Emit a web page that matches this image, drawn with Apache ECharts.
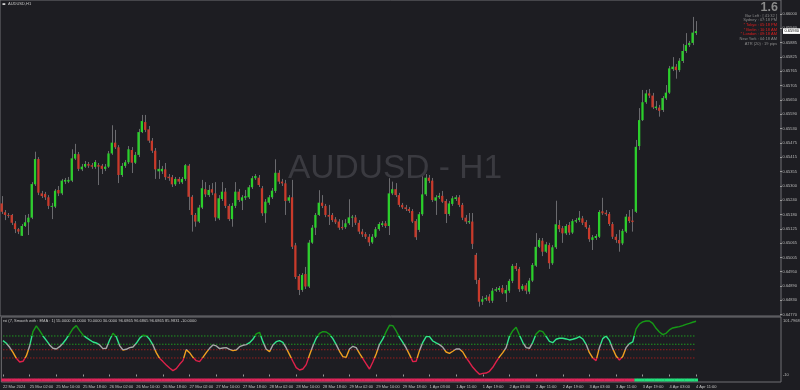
<!DOCTYPE html>
<html><head><meta charset="utf-8">
<script src="https://cdn.jsdelivr.net/npm/echarts@6/dist/echarts.min.js"></script>
<style>html,body{margin:0;padding:0;background:#1d1d22;}#c{width:800px;height:390px;}</style>
</head><body><div id="c"></div>
<script>
const symbolLabel = 'AUDUSD,H1';
const watermark = 'AUDUSD - H1';
const timeLabels = ['22 Mar 2024','25 Mar 02:00','25 Mar 10:00','25 Mar 18:00','26 Mar 02:00','26 Mar 10:00','26 Mar 18:00','27 Mar 02:00','27 Mar 10:00','27 Mar 18:00','28 Mar 02:00','28 Mar 10:00','28 Mar 18:00','29 Mar 02:00','29 Mar 10:00','29 Mar 18:00','1 Apr 03:00','1 Apr 11:00','1 Apr 19:00','2 Apr 03:00','2 Apr 11:00','2 Apr 19:00','3 Apr 03:00','3 Apr 11:00','3 Apr 19:00','4 Apr 03:00','4 Apr 11:00'];
const priceTicks = ['0.64770','0.64830','0.64890','0.64950','0.65005','0.65065','0.65125','0.65180','0.65240','0.65300','0.65355','0.65415','0.65475','0.65530','0.65590','0.65650','0.65705','0.65765','0.65825','0.65885','0.65940','0.66000'];

const opens = [0.65227,0.65191,0.65180,0.65180,0.65146,0.65122,0.65095,0.65135,0.65150,0.65169,
0.65305,0.65408,0.65268,0.65266,0.65252,0.65214,0.65214,0.65282,0.65268,0.65316,
0.65316,0.65320,0.65410,0.65428,0.65366,0.65377,0.65388,0.65383,0.65376,0.65384,
0.65381,0.65368,0.65377,0.65431,0.65475,0.65456,0.65343,0.65380,0.65395,0.65445,
0.65393,0.65425,0.65518,0.65559,0.65529,0.65483,0.65442,0.65358,0.65358,0.65366,
0.65336,0.65334,0.65305,0.65327,0.65313,0.65327,0.65381,0.65254,0.65180,0.65153,
0.65210,0.65285,0.65261,0.65285,0.65268,0.65166,0.65245,0.65275,0.65217,0.65163,
0.65217,0.65275,0.65238,0.65250,0.65252,0.65293,0.65330,0.65332,0.65289,0.65187,
0.65230,0.65252,0.65278,0.65352,0.65316,0.65309,0.65238,0.65252,0.65056,0.64931,
0.64874,0.64939,0.64888,0.65067,0.65128,0.65180,0.65230,0.65217,0.65180,0.65180,
0.65162,0.65153,0.65131,0.65130,0.65146,0.65169,0.65170,0.65148,0.65112,0.65102,
0.65091,0.65068,0.65091,0.65122,0.65139,0.65146,0.65135,0.65268,0.65285,0.65261,
0.65221,0.65211,0.65204,0.65196,0.65155,0.65119,0.65183,0.65264,0.65332,0.65320,
0.65238,0.65252,0.65258,0.65237,0.65184,0.65225,0.65245,0.65252,0.65221,0.65169,
0.65150,0.65153,0.65017,0.64915,0.64826,0.64836,0.64847,0.64830,0.64871,0.64874,
0.64882,0.64860,0.64871,0.64911,0.64972,0.64960,0.64877,0.64893,0.64867,0.64912,
0.64973,0.65050,0.65075,0.65030,0.65057,0.64983,0.65048,0.65139,0.65126,0.65105,
0.65139,0.65108,0.65153,0.65159,0.65166,0.65151,0.65128,0.65078,0.65086,0.65091,
0.65195,0.65189,0.65184,0.65143,0.65091,0.65078,0.65064,0.65112,0.65173,0.65157,
0.65193,0.65461,0.65567,0.65640,0.65676,0.65667,0.65616,0.65618,0.65608,0.65656,
0.65679,0.65775,0.65785,0.65771,0.65808,0.65849,0.65873,0.65882,0.65922];

const closes = [0.65193,0.65180,0.65176,0.65148,0.65122,0.65112,0.65135,0.65150,0.65169,0.65306,
0.65408,0.65271,0.65257,0.65252,0.65217,0.65217,0.65279,0.65268,0.65320,0.65323,
0.65323,0.65411,0.65429,0.65368,0.65377,0.65388,0.65381,0.65377,0.65396,0.65377,
0.65368,0.65377,0.65431,0.65475,0.65456,0.65343,0.65380,0.65395,0.65448,0.65393,
0.65425,0.65518,0.65563,0.65527,0.65483,0.65442,0.65366,0.65368,0.65368,0.65334,
0.65330,0.65305,0.65327,0.65316,0.65327,0.65383,0.65254,0.65180,0.65153,0.65210,
0.65289,0.65264,0.65282,0.65271,0.65170,0.65248,0.65275,0.65217,0.65163,0.65217,
0.65275,0.65241,0.65252,0.65257,0.65293,0.65330,0.65339,0.65302,0.65187,0.65234,
0.65252,0.65279,0.65352,0.65316,0.65309,0.65237,0.65252,0.65050,0.64927,0.64874,
0.64935,0.64888,0.65067,0.65128,0.65180,0.65230,0.65217,0.65180,0.65173,0.65159,
0.65150,0.65128,0.65126,0.65146,0.65170,0.65173,0.65148,0.65112,0.65101,0.65091,
0.65068,0.65091,0.65122,0.65143,0.65146,0.65135,0.65268,0.65285,0.65261,0.65221,
0.65211,0.65204,0.65196,0.65153,0.65089,0.65183,0.65264,0.65332,0.65319,0.65241,
0.65252,0.65258,0.65234,0.65184,0.65227,0.65248,0.65252,0.65221,0.65169,0.65153,
0.65155,0.65062,0.64915,0.64826,0.64836,0.64842,0.64830,0.64871,0.64877,0.64882,
0.64863,0.64874,0.64911,0.64972,0.64960,0.64877,0.64890,0.64871,0.64912,0.64976,
0.65050,0.65078,0.65030,0.65060,0.64983,0.65048,0.65142,0.65122,0.65105,0.65135,
0.65108,0.65155,0.65159,0.65169,0.65148,0.65130,0.65081,0.65089,0.65094,0.65192,
0.65187,0.65183,0.65143,0.65091,0.65078,0.65064,0.65115,0.65173,0.65155,0.65151,
0.65458,0.65567,0.65640,0.65676,0.65667,0.65619,0.65622,0.65605,0.65657,0.65679,
0.65778,0.65785,0.65771,0.65809,0.65849,0.65873,0.65882,0.65924,0.65930];

const lows = [0.65184,0.65159,0.65168,0.65139,0.65106,0.65102,0.65094,0.65131,0.65098,0.65163,
0.65298,0.65261,0.65249,0.65241,0.65204,0.65163,0.65208,0.65257,0.65261,0.65306,
0.65310,0.65314,0.65404,0.65359,0.65359,0.65372,0.65372,0.65368,0.65368,0.65302,
0.65347,0.65359,0.65372,0.65425,0.65449,0.65310,0.65335,0.65372,0.65388,0.65351,
0.65388,0.65416,0.65514,0.65518,0.65474,0.65433,0.65327,0.65327,0.65347,0.65323,
0.65319,0.65294,0.65298,0.65306,0.65306,0.65319,0.65200,0.65112,0.65132,0.65147,
0.65204,0.65253,0.65253,0.65261,0.65155,0.65159,0.65237,0.65208,0.65155,0.65132,
0.65208,0.65233,0.65200,0.65241,0.65245,0.65286,0.65323,0.65294,0.65176,0.65148,
0.65221,0.65245,0.65270,0.65306,0.65298,0.65180,0.65229,0.65041,0.64919,0.64853,
0.64866,0.64878,0.64882,0.65062,0.65098,0.65176,0.65208,0.65171,0.65139,0.65151,
0.65143,0.65119,0.65119,0.65123,0.65139,0.65131,0.65139,0.65102,0.65090,0.65082,
0.65053,0.65062,0.65086,0.65115,0.65131,0.65127,0.65098,0.65261,0.65253,0.65212,
0.65204,0.65196,0.65188,0.65147,0.65078,0.65110,0.65176,0.65257,0.65310,0.65233,
0.65180,0.65245,0.65229,0.65147,0.65176,0.65217,0.65237,0.65212,0.65159,0.65143,
0.65143,0.65041,0.64898,0.64806,0.64813,0.64829,0.64821,0.64821,0.64866,0.64866,
0.64857,0.64825,0.64862,0.64902,0.64951,0.64866,0.64870,0.64857,0.64857,0.64906,
0.64968,0.65045,0.65012,0.65025,0.64960,0.64976,0.65041,0.65110,0.65066,0.65098,
0.65098,0.65102,0.65147,0.65151,0.65139,0.65123,0.65070,0.65037,0.65078,0.65086,
0.65180,0.65176,0.65135,0.65082,0.65066,0.65030,0.65057,0.65106,0.65147,0.65112,
0.65188,0.65445,0.65563,0.65633,0.65657,0.65612,0.65608,0.65581,0.65600,0.65649,
0.65674,0.65767,0.65736,0.65763,0.65800,0.65841,0.65865,0.65873,0.65914];

const highs = [0.65257,0.65200,0.65188,0.65184,0.65155,0.65127,0.65143,0.65180,0.65184,0.65314,
0.65438,0.65416,0.65278,0.65274,0.65261,0.65229,0.65286,0.65298,0.65327,0.65331,
0.65335,0.65448,0.65470,0.65437,0.65388,0.65400,0.65396,0.65392,0.65404,0.65392,
0.65388,0.65388,0.65441,0.65546,0.65527,0.65465,0.65392,0.65404,0.65461,0.65457,
0.65437,0.65531,0.65588,0.65588,0.65543,0.65494,0.65453,0.65404,0.65380,0.65392,
0.65347,0.65343,0.65335,0.65335,0.65335,0.65388,0.65388,0.65261,0.65188,0.65221,
0.65323,0.65314,0.65302,0.65310,0.65314,0.65261,0.65314,0.65290,0.65225,0.65229,
0.65314,0.65286,0.65261,0.65282,0.65302,0.65339,0.65347,0.65343,0.65298,0.65245,
0.65261,0.65290,0.65407,0.65363,0.65327,0.65323,0.65261,0.65323,0.65066,0.64939,
0.64943,0.64968,0.65078,0.65139,0.65188,0.65281,0.65261,0.65225,0.65221,0.65188,
0.65171,0.65163,0.65159,0.65163,0.65244,0.65180,0.65180,0.65159,0.65123,0.65110,
0.65102,0.65102,0.65131,0.65151,0.65155,0.65155,0.65330,0.65316,0.65310,0.65270,
0.65229,0.65221,0.65212,0.65204,0.65163,0.65192,0.65347,0.65347,0.65343,0.65331,
0.65261,0.65270,0.65278,0.65245,0.65237,0.65257,0.65261,0.65261,0.65229,0.65180,
0.65188,0.65188,0.65025,0.64923,0.64849,0.64853,0.64857,0.64882,0.64886,0.64890,
0.64894,0.64894,0.64919,0.64980,0.64984,0.64968,0.64898,0.64902,0.64923,0.64984,
0.65106,0.65086,0.65086,0.65070,0.65066,0.65057,0.65238,0.65159,0.65135,0.65143,
0.65151,0.65163,0.65167,0.65196,0.65176,0.65159,0.65139,0.65098,0.65102,0.65200,
0.65250,0.65200,0.65192,0.65151,0.65102,0.65119,0.65123,0.65184,0.65200,0.65204,
0.65486,0.65616,0.65690,0.65690,0.65694,0.65678,0.65645,0.65629,0.65665,0.65710,
0.65788,0.65824,0.65796,0.65820,0.65878,0.65922,0.65890,0.65988,0.65971];

const rsi = [61.5,56.7,49.4,40.3,29.4,22.8,24.0,33.7,51.9,77.9,
88.2,79.7,70.0,62.1,53.7,47.6,46.4,50.6,56.7,64.6,
73.7,83.4,88.8,79.7,71.9,67.0,62.8,59.1,57.3,53.7,
47.0,47.6,62.8,74.9,68.8,52.5,44.6,45.8,48.8,50.0,
56.7,65.8,71.2,70.6,64.0,53.7,39.7,29.4,23.4,17.3,
11.8,7.0,10.6,18.5,25.2,45.2,39.7,31.2,25.2,23.4,
31.2,39.7,47.6,53.7,51.9,47.0,48.2,48.8,45.8,43.4,
44.6,50.6,53.1,54.3,57.9,64.0,73.7,76.7,59.7,45.8,
41.6,53.7,59.7,61.5,58.5,48.2,36.1,24.0,12.4,8.2,
10.0,17.9,35.5,51.9,65.8,74.9,77.9,77.3,73.1,65.2,
54.3,42.2,32.5,31.2,46.4,51.2,48.8,38.5,28.8,19.1,
10.0,22.8,37.3,54.9,64.6,77.9,89.4,88.8,79.1,67.6,
58.5,48.2,36.1,23.4,24.0,43.4,58.5,68.8,68.8,60.9,
57.3,54.3,49.4,40.9,38.5,42.2,46.4,46.4,40.9,30.6,
22.2,13.1,6.4,0.3,2.1,2.7,5.8,13.1,22.8,31.9,
39.7,48.8,69.4,79.7,85.8,71.9,58.5,48.8,47.6,58.5,
73.7,79.7,77.9,69.4,60.3,57.9,64.0,65.8,65.8,64.6,
62.8,64.0,65.8,68.8,64.6,54.9,39.7,30.0,25.2,48.8,
65.2,70.0,62.1,47.0,33.7,26.4,32.5,48.8,56.1,59.1,
82.8,91.8,95.5,97.3,97.3,93.0,84.0,77.3,72.5,74.9,
81.0,84.6,85.8,87.0,88.8,91.2,93.0,94.9,96.7];

const upperLevels = [70, 55];
const lowerLevels = [45, 30];
const stripLevel = -10;
const stripUpFromBar = 190;
const rsiTitle = 'rsi (7, Smooth with : EMA : 1) 55.0000 45.0000 70.0000 30.0000 96.6865 96.6865 96.6865 85.9831 -10.0000';
const rsiScaleLabels = ['101.7968', '-10'];
const infoBig = '1.6';
const infoLines = ['Bar Left : [ 41:32 ]','Sydney : 07:18 PM','* Tokyo : 05:18 PM','* Berlin : 10:18 AM','* London : 09:18 AM','New York : 04:18 AM','ATR (20) : 19 pips'];
const infoIsMarket = [false,false,true,true,true,false,false];

// ---- layout / style ----
const chartShiftBars = 25;
const labelEvery = 8;
const BG = '#1d1d22';
const FONT = '"Liberation Sans", Arial, sans-serif';
const n = opens.length;
const slots = n + chartShiftBars;
const cats = Array.from({length: slots}, (_, i) => String(i));
const candleData = opens.map((o, i) => [i, o, closes[i], lows[i], highs[i]]);
const stripData = opens.map((_, i) => [i, stripLevel, i >= stripUpFromBar ? 1 : 0]);
const lastPrice = [[n - 1, closes[n - 1]]];

function renderCandle(params, api) {
  const i = api.value(0), o = api.value(1), c = api.value(2), l = api.value(3), h = api.value(4);
  const pO = api.coord([i, o]), pC = api.coord([i, c]);
  const yL = api.coord([i, l])[1], yH = api.coord([i, h])[1];
  const x = pO[0];
  const bw = api.size([1, 0])[0] * 0.68;
  const top = Math.min(pO[1], pC[1]), bot = Math.max(pO[1], pC[1]);
  const xl = Math.round(x) + 0.5;
  return {type: 'group', children: [
    {type: 'line', shape: {x1: xl, y1: yH, x2: xl, y2: yL}, style: {stroke: '#6a6a6e', lineWidth: 1}},
    {type: 'rect', shape: {x: x - bw / 2, y: top, width: bw, height: Math.max(bot - top, 1)},
     style: {fill: c >= o ? '#2bcf2b' : '#c93a2b'}}
  ]};
}
function renderStrip(params, api) {
  const i = api.value(0), v = api.value(1), up = api.value(2);
  const p = api.coord([i, v]);
  const w = api.size([1, 0])[0];
  return {type: 'rect', shape: {x: p[0] - w / 2, y: p[1] - 1.5, width: w + 0.3, height: 3},
    style: {fill: up ? '#22e27c' : '#e2245a'}};
}
function renderPriceBox(params, api) {
  const p = api.coord([api.value(0), api.value(1)]);
  const cs = params.coordSys;
  return {type: 'text', x: cs.x + cs.width + 2, y: p[1],
    style: {text: api.value(1).toFixed(5), font: '4px ' + FONT, fill: '#000000', align: 'left', verticalAlign: 'middle',
      backgroundColor: '#ffffff', padding: [1, 1.5, 0.6, 1.5]}};
}

const levelSeries = [];
upperLevels.concat(lowerLevels).forEach((lv, k) => {
  levelSeries.push({type: 'line', xAxisIndex: 2, yAxisIndex: 2, data: opens.map(() => lv), symbol: 'none', silent: true,
    lineStyle: {width: 1, type: [1.5, 1.5], color: k < upperLevels.length ? '#1f9a1f' : '#9a1e1e'}, z: 1});
});

const txt = (x, y, text, size, color, align, extra) => ({type: 'text', x: x, y: y, silent: true, z: 50,
  style: Object.assign({text: text, font: size + 'px ' + FONT, fill: color, align: align || 'left', verticalAlign: 'middle'}, extra || {})});

const graphics = [
  txt(288, 169, watermark, 33.5, '#3a3a40'),
  {type: 'rect', shape: {x: 2.5, y: 3.2, width: 2.8, height: 1.8}, style: {fill: '#d0d0d0'}, silent: true},
  txt(8, 4.3, symbolLabel, 4, '#c8c8c8'),
  txt(3, 321, rsiTitle, 4, '#c8c8c8'),
  txt(783, 320.5, rsiScaleLabels[0], 4, '#bcbcbc'),
  txt(783, 375, rsiScaleLabels[1], 4, '#bcbcbc'),
  {type: 'text', x: 778, y: 8, silent: true, z: 50, style: {text: infoBig, font: 'bold 12.5px ' + FONT, fill: '#8a8a8a', align: 'right', verticalAlign: 'middle'}}
];
infoLines.forEach((t, k) => {
  graphics.push(txt(777, 15.6 + k * 4.65, t, 4, infoIsMarket[k] ? '#e01e1e' : '#8a8a8a', 'right'));
});

const yMax = 0.66057, yMin = 0.647677;
const option = {
  backgroundColor: BG,
  animation: false,
  grid: [
    {left: 0, top: 0, width: 781, height: 316, show: true, borderColor: '#707074', borderWidth: 1, backgroundColor: 'transparent'},
    {left: 0, top: 14, width: 781, height: 300.7},
    {left: 0, top: 317, width: 781, height: 65, show: true, borderColor: '#707074', borderWidth: 1, backgroundColor: 'transparent'}
  ],
  xAxis: [
    {type: 'category', gridIndex: 0, data: cats, boundaryGap: true, show: false},
    {type: 'category', gridIndex: 1, data: cats, boundaryGap: true, show: false},
    {type: 'category', gridIndex: 2, data: cats, boundaryGap: true, position: 'bottom',
     axisLine: {show: false},
     axisTick: {show: true, alignWithLabel: true, length: 2, lineStyle: {color: '#9a9a9a'},
       interval: (idx) => idx % labelEvery === 0 && idx / labelEvery < timeLabels.length},
     axisLabel: {show: true, color: '#c4c4c4', fontSize: 4, fontFamily: FONT, margin: 2.5, align: 'left',
       interval: (idx) => idx % labelEvery === 0 && idx / labelEvery < timeLabels.length,
       formatter: (v) => { const i = +v; return (i % labelEvery === 0 && timeLabels[i / labelEvery]) || ''; }},
     splitLine: {show: false}}
  ],
  yAxis: [
    {type: 'value', gridIndex: 0, min: yMin, max: yMax, show: false, scale: true},
    {type: 'value', gridIndex: 1, min: 0, max: priceTicks.length - 1, interval: 1, position: 'right',
     axisLine: {show: false}, splitLine: {show: false},
     axisTick: {show: true, length: 2, lineStyle: {color: '#9a9a9a'}},
     axisLabel: {show: true, color: '#bcbcbc', fontSize: 4, fontFamily: FONT, margin: 2.5,
       formatter: (v) => priceTicks[Math.round(v)] || ''}},
    {type: 'value', gridIndex: 2, min: -13.64, max: 104.5, show: false}
  ],
  visualMap: [{type: 'piecewise', show: false, seriesIndex: 3, dimension: 1,
    pieces: [
      {gte: 70, color: '#159a15'},
      {gte: 55, lt: 70, color: '#2ee68a'},
      {gte: 45, lt: 55, color: '#a6a6a6'},
      {gte: 30, lt: 45, color: '#f0a020'},
      {lt: 30, color: '#e0204a'}
    ]}],
  graphic: graphics,
  series: [
    {type: 'custom', name: 'candles', xAxisIndex: 0, yAxisIndex: 0, data: candleData,
     encode: {x: 0, y: [1, 2, 3, 4]}, renderItem: renderCandle, silent: true, z: 3},
    {type: 'custom', name: 'price', xAxisIndex: 0, yAxisIndex: 0, data: lastPrice, clip: false,
     encode: {x: 0, y: 1}, renderItem: renderPriceBox, silent: true, z: 60},
    {type: 'custom', name: 'strip', xAxisIndex: 2, yAxisIndex: 2, data: stripData,
     encode: {x: 0, y: 1}, renderItem: renderStrip, silent: true, z: 2},
    {type: 'line', name: 'rsi', xAxisIndex: 2, yAxisIndex: 2, data: rsi, symbol: 'none', silent: true,
     lineStyle: {width: 1.4}, z: 5},
    ...levelSeries,
    {type: 'line', xAxisIndex: 1, yAxisIndex: 1, data: [], symbol: 'none', silent: true}
  ]
};
const chart = echarts.init(document.getElementById('c'), null, {renderer: 'canvas'});
chart.setOption(option);
</script></body></html>
